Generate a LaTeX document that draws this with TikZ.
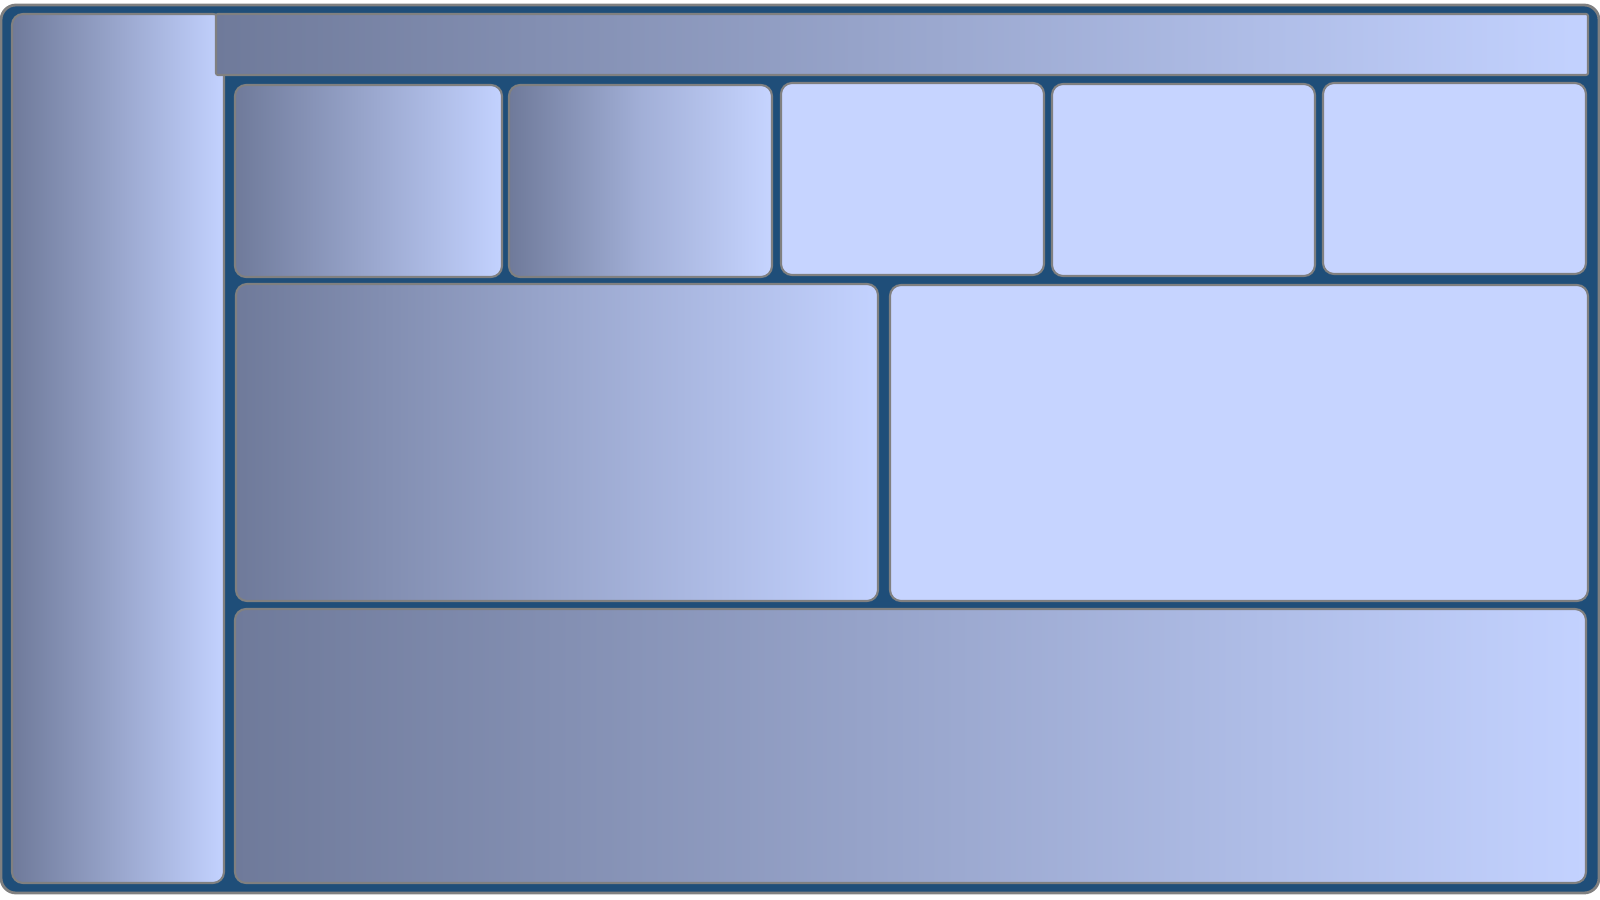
\documentclass[tikz,border=0pt]{standalone}
\usepackage{tikz}
\definecolor{framecol}{HTML}{1F4E79}
\definecolor{slate}{HTML}{6F7A9A}
\definecolor{pale}{HTML}{C3D2FF}
\definecolor{flatcol}{HTML}{C6D4FF}
\tikzset{panel it/.style={draw=gray, line width=0.6pt, rounded corners=0.11cm, left color=slate, right color=pale}}
\tikzset{flat it/.style={draw=gray, line width=0.6pt, rounded corners=0.11cm, fill=flatcol}}

\begin{document}
\begin{tikzpicture}[x=0.01cm, y=-0.01cm]
    \useasboundingbox (0,0) rectangle (1600,900);
    \draw [draw=gray, line width=0.8pt, fill=framecol, rounded corners=0.15cm] (1,5) coordinate (F1) rectangle (1599,893) coordinate (F2);
    \draw [panel it] (12,14) coordinate (L1) rectangle (224,883) coordinate (L2);
    \draw [panel it, rounded corners=0.02cm] (216,14) coordinate (T1) rectangle (1588,75) coordinate (T2);
    \draw [panel it] (235,85) rectangle (502,277);
    \draw [panel it, right color=pale!95!white, middle color=pale!60!slate] (509,85) rectangle (772,277);
    \draw [flat it] (781,83) rectangle (1044,275);
    \draw [flat it] (1052,84) rectangle (1315,276);
    \draw [flat it] (1323,83) rectangle (1586,274);
    \draw [panel it] (236,284) rectangle (878,601);
    \draw [flat it] (890,285) rectangle (1588,601);
    \draw [panel it] (235,609) rectangle (1586,883);
\end{tikzpicture}
\end{document}
